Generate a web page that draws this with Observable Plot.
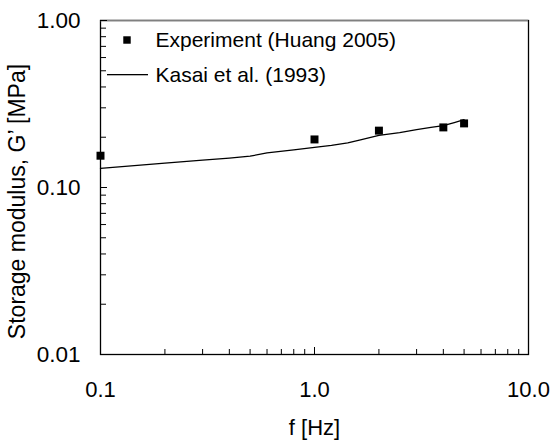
<!DOCTYPE html>
<html>
<head>
<meta charset="utf-8">
<script src="https://cdn.jsdelivr.net/npm/d3@7"></script>
<script src="https://cdn.jsdelivr.net/npm/@observablehq/plot@0.6"></script>
<style>
  html, body { margin: 0; padding: 0; background: #fff; }
  svg { display: block; }
</style>
</head>
<body>
<div id="chart"></div>
<script>
// Experiment (Huang 2005)
const expF = [0.1, 1, 2, 4, 5];
const expG = [0.155, 0.194, 0.219, 0.229, 0.242];
// Kasai et al. (1993) model
const modelF = [0.1, 0.2, 0.3, 0.4, 0.5, 0.6, 0.8, 1.0, 1.2, 1.43, 1.64, 2.0, 2.5, 3.0, 3.5, 4.0, 4.5, 5.0];
const modelG = [0.130, 0.140, 0.146, 0.150, 0.154, 0.161, 0.168, 0.174, 0.179, 0.185, 0.193, 0.205, 0.213, 0.222, 0.229, 0.235, 0.245, 0.255];
// ticks
const xMajor = [0.1, 1, 10];
const xMinor = [0.2, 0.3, 0.4, 0.5, 0.6, 0.7, 0.8, 0.9, 2, 3, 4, 5, 6, 7, 8, 9];
const yMajor = [0.01, 0.1, 1];
const yMinor = [0.02, 0.03, 0.04, 0.05, 0.06, 0.07, 0.08, 0.09, 0.2, 0.3, 0.4, 0.5, 0.6, 0.7, 0.8, 0.9];
const legendLabels = ["Experiment (Huang 2005)", "Kasai et al. (1993)"];
const xTitle = "f [Hz]";
const yTitle = "Storage modulus, G’ [MPa]";

const W = 556, H = 445;
const mL = 100, mR = 28, mT = 20, mB = 91;
const fw = W - mL - mR, fh = H - mT - mB;

const exp = expF.map((f, i) => ({f, g: expG[i]}));
const model = modelF.map((f, i) => ({f, g: modelG[i]}));

const chart = Plot.plot({
  width: W,
  height: H,
  marginLeft: mL, marginRight: mR, marginTop: mT, marginBottom: mB,
  style: {fontFamily: "'Liberation Sans', Arial, sans-serif", fontSize: "21px", color: "black", background: "white"},
  x: {type: "log", domain: [0.1, 10]},
  y: {type: "log", domain: [0.01, 1]},
  marks: [
    Plot.frame({stroke: "black", strokeWidth: 1.3}),
    Plot.ruleY([1], {stroke: "#808080", strokeWidth: 1.5}),
    // inward ticks
    Plot.tickY(yMajor, {y: d => d, insetRight: fw - 7, stroke: "black"}),
    Plot.tickY(yMinor, {y: d => d, insetRight: fw - 6, stroke: "black"}),
    Plot.tickX(xMajor, {x: d => d, insetTop: fh - 7, stroke: "black"}),
    Plot.tickX(xMinor, {x: d => d, insetTop: fh - 5, stroke: "black"}),
    Plot.axisY({ticks: yMajor, tickSize: 0, tickPadding: 20, tickFormat: d => d.toFixed(2), fontSize: 22.5, label: null}),
    Plot.axisX({ticks: xMajor, tickSize: 0, tickPadding: 27, tickFormat: d => d.toFixed(1), fontSize: 22, label: null}),
    Plot.text([yTitle], {text: d => d, frameAnchor: "left", dx: -83, dy: 14, rotate: -90, fontSize: 23, textAnchor: "middle", lineAnchor: "middle", fill: "black"}),
    Plot.text([xTitle], {text: d => d, frameAnchor: "bottom", dy: 73, fontSize: 22, textAnchor: "middle", lineAnchor: "middle", fill: "black"}),
    Plot.line(model, {x: "f", y: "g", stroke: "black", strokeWidth: 1.3}),
    Plot.dot(exp, {x: "f", y: "g", symbol: "square", r: 4.5, fill: "black", stroke: "none"}),
    // legend
    Plot.dot([0], {frameAnchor: "top-left", dx: 26.5, dy: 19.5, symbol: "square", r: 4.2, fill: "black", stroke: "none"}),
    Plot.rect([0], {insetLeft: 7, insetRight: fw - 48, insetTop: 54, insetBottom: fh - 55.3, fill: "black"}),
    Plot.text([legendLabels[0]], {text: d => d, frameAnchor: "top-left", dx: 55, dy: 20, textAnchor: "start", lineAnchor: "middle", fill: "black"}),
    Plot.text([legendLabels[1]], {text: d => d, frameAnchor: "top-left", dx: 55, dy: 55, textAnchor: "start", lineAnchor: "middle", fill: "black"})
  ]
});
document.getElementById("chart").appendChild(chart);
</script>
</body>
</html>
